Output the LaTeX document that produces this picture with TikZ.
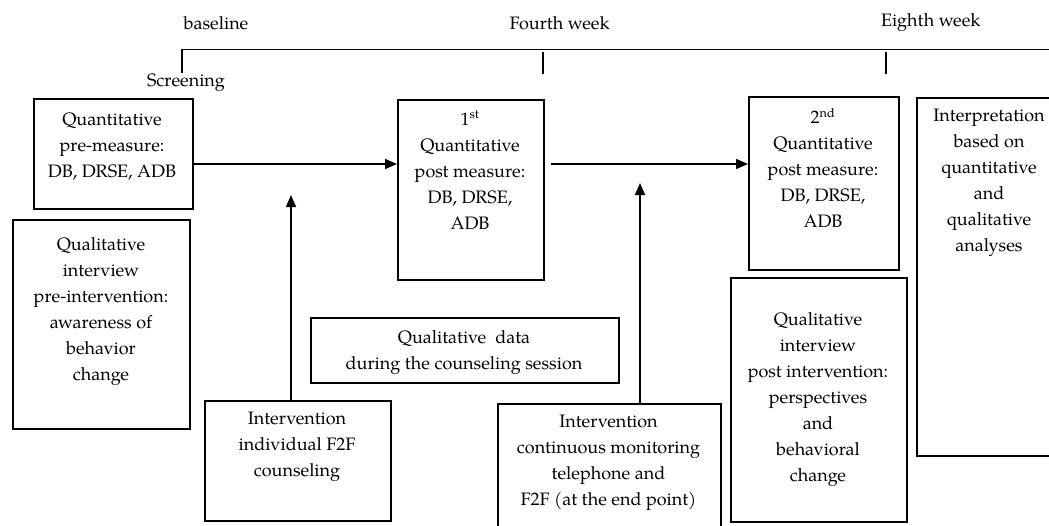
\documentclass[tikz,border=0pt]{standalone}
\usepackage{fontspec}
\setmainfont{TeX Gyre Pagella}
\usetikzlibrary{arrows.meta}
\begin{document}
\begin{tikzpicture}[x=1pt,y=-1pt,
 box/.style={draw,line width=1.7pt,inner sep=0pt,anchor=north west},
 txt/.style={align=center,font=\fontsize{18}{26}\selectfont,inner sep=0pt},
 lbl/.style={font=\fontsize{18}{26}\selectfont,inner sep=0pt},
 arr/.style={line width=1.7pt,-{Triangle[length=12pt,width=10pt]}},
 tline/.style={line width=1.7pt}]
\useasboundingbox (0,0) rectangle (1049,525);
\clip (0,0) rectangle (1049,525);

% timeline
\coordinate (s0) at (182,73);
\coordinate (s1) at (182,49.5);
\coordinate (tEnd) at (1060,49.5);
\draw[tline] (s0) -- (s1) -- (tEnd);
\coordinate (f0) at (543,52);
\coordinate (f1) at (543,74);
\draw[tline] (f0) -- (f1);
\coordinate (e0) at (886,52);
\coordinate (e1) at (886,74);
\draw[tline] (e0) -- (e1);

\node[lbl] (lbase) at (216,23) {baseline};
\node[lbl] (lscr) at (186,83) {Screening};
\node[lbl] (lfour) at (559.5,23) {Fourth week};
\node[lbl] (leight) at (930.7,23) {Eighth week};

% boxes
\node[box,minimum width=159pt,minimum height=110pt] (qpre) at (33,98) {};
\node[txt] (qpreT) at (112,147) {Quantitative\\pre-measure:\\DB, DRSE, ADB};

\node[box,minimum width=146pt,minimum height=180pt] (q1) at (397,99) {};
\node[txt] (q1T) at (470,170) {1\textsuperscript{st}\\Quantitative\\post measure:\\DB, DRSE,\\ADB};

\node[box,minimum width=150pt,minimum height=173pt] (q2) at (748,96) {};
\node[txt] (q2T) at (823,168) {2\textsuperscript{nd}\\Quantitative\\post measure:\\DB, DRSE,\\ADB};

\node[box,minimum width=146pt,minimum height=358pt] (interp) at (916,97) {};
\node[txt] (interpT) at (989,183) {Interpretation\\based on\\quantitative\\and\\qualitative\\analyses};

\node[box,minimum width=177pt,minimum height=209pt] (qlpre) at (12,219) {};
\node[txt] (qlpreT) at (101,312) {Qualitative\\interview\\pre-intervention:\\awareness of\\behavior\\change};

\node[box,minimum width=186pt,minimum height=120pt] (iv1) at (204,400) {};
\node[txt] (iv1T) at (297,446.5) {Intervention\\individual F2F\\counseling};

\node[box,minimum width=308pt,minimum height=65pt] (qdata) at (310,317) {};
\node[txt] (qdataT) at (464,352.5) {Qualitative~ data\\during the counseling session};

\node[box,minimum width=223pt,minimum height=130pt] (iv2) at (497,403) {};
\node[txt] (iv2T) at (608.5,462.5) {Intervention\\continuous monitoring\\telephone and\\F2F (at the end point)};

\node[box,minimum width=176pt,minimum height=244pt] (qlpost) at (730,277) {};
\node[txt] (qlpostT) at (818,400) {Qualitative\\interview\\post intervention:\\perspectives\\and\\behavioral\\change};

% arrows
\draw[arr] (qpre.east |- 0,164) -- (q1.west |- 0,164);
\draw[arr] ([xshift=6pt]q1.east |- 0,164) -- (q2.west |- 0,164);
\coordinate (t1) at (291,195);
\draw[arr] (iv1.north -| t1) -- (t1);
\coordinate (t2) at (640,183);
\draw[arr] (iv2.north -| t2) -- (t2);
\end{tikzpicture}
\end{document}
